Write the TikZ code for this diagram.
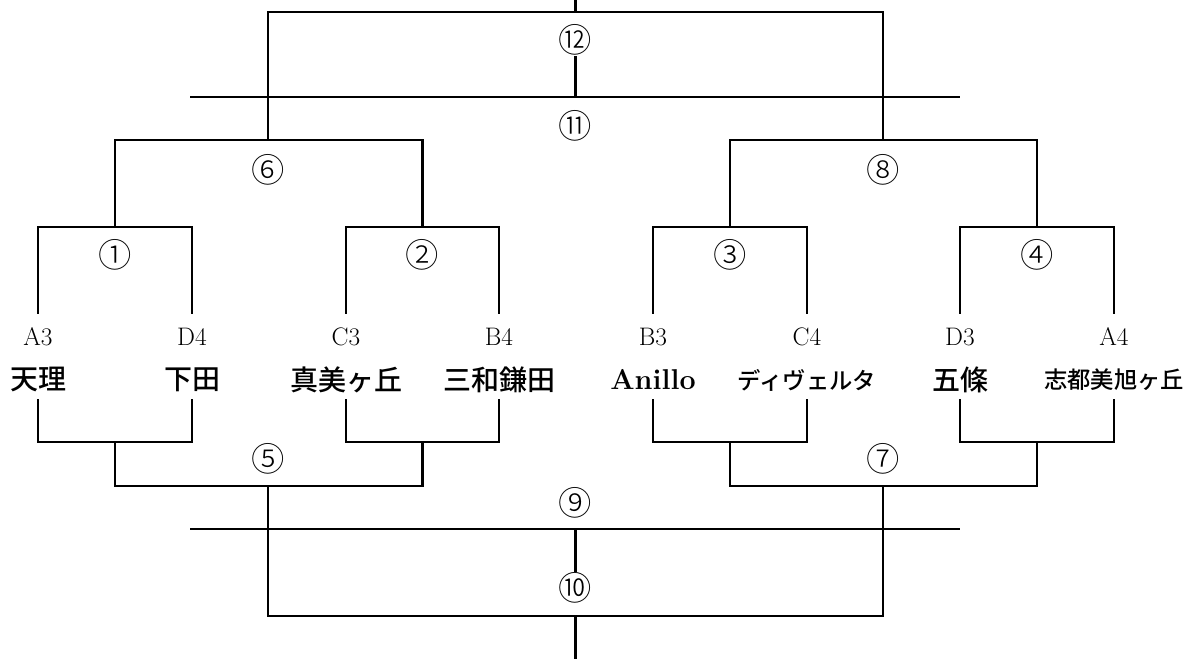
\documentclass[tikz,border=0pt]{standalone}
\usepackage{fontspec}
\newfontfamily\jpfont{Noto Sans CJK JP}[UprightFont={* Medium}]
\newfontfamily\numfont{Noto Sans CJK JP}[UprightFont={* Light}]
\usetikzlibrary{positioning}
\tikzset{%
	bracket/.style={
		line width=2.2pt,
		line cap=rect
	},
	seed/.style={
		font=\fontsize{19}{19}\selectfont,
		inner sep=0pt
	},
	team/.style={
		font=\jpfont\fontsize{21}{21}\selectfont,
		inner sep=0pt
	},
	small team/.style={
		font=\jpfont\fontsize{17.5}{17.5}\selectfont,
		inner sep=0pt
	},
	latin team/.style={
		font=\bfseries\fontsize{21.5}{21.5}\selectfont,
		inner sep=0pt
	},
	match/.style={
		font=\numfont\fontsize{25}{25}\selectfont,
		inner sep=1.5pt
	},
}

\begin{document}
\begin{tikzpicture}[x=0.75pt, y=-0.75pt]
	\useasboundingbox (0,0) rectangle (1195,659);
	
	% teams, seeds and bracket ends
	\foreach \i/\x/\s/\t/\st in {1/38/A3/天理/team, 2/192/D4/下田/team,
		3/346/C3/真美ヶ丘/team, 4/499/B4/三和鎌田/team,
		5/653/B3/Anillo/latin team, 6/807/C4/ディヴェルタ/small team,
		7/960/D3/五條/team, 8/1114/A4/志都美旭ヶ丘/small team} {
		\node[seed] (s\i) at (\x,337) {\s};
		\node[\st] (n\i) at (\x,380) {\t};
		\coordinate (u\i) at (\x,313);
		\coordinate (d\i) at (\x,400);
	}
	
	% joints
	\foreach \k/\x in {1/115, 2/422.5, 3/730, 4/1037} {
		\coordinate (a\k) at (\x,227);
		\coordinate (e\k) at (\x,442);
	}
	\coordinate (b6) at (268,140);
	\coordinate (b8) at (883,140);
	\coordinate (g5) at (268,486);
	\coordinate (g7) at (883,486);
	\coordinate (f) at (575.5,12);
	\coordinate (top) at (575.5,0);
	\coordinate (h) at (575.5,616);
	\coordinate (bot) at (575.5,659);
	\coordinate (l11a) at (191,97);
	\coordinate (l11b) at (959,97);
	\coordinate (l9a) at (191,529);
	\coordinate (l9b) at (959,529);
	
	% match numbers
	\node[match] (m1) at (115,255) {①};
	\node[match] (m2) at (422.5,255) {②};
	\node[match] (m3) at (730,255) {③};
	\node[match] (m4) at (1037,255) {④};
	\node[match] (m5) at (268,459) {⑤};
	\node[match] (m6) at (268,170) {⑥};
	\node[match] (m7) at (883,459) {⑦};
	\node[match] (m8) at (883,170) {⑧};
	\node[match] (m9) at (575.5,503) {⑨};
	\node[match] (m10) at (575.5,588) {⑩};
	\node[match] (m11) at (575.5,126) {⑪};
	\node[match] (m12) at (575.5,40) {⑫};
	
	% upper half
	\draw[bracket] (u1) |- (a1) -| (u2);
	\draw[bracket] (u3) |- (a2) -| (u4);
	\draw[bracket] (u5) |- (a3) -| (u6);
	\draw[bracket] (u7) |- (a4) -| (u8);
	\draw[bracket] (a1) |- (b6) -| (a2);
	\draw[bracket] (a3) |- (b8) -| (a4);
	\draw[bracket] (b6) |- (f) -| (b8);
	\draw[bracket] (f) -- (top);
	\draw[bracket] (l11a) -- (l11b);
	\draw[bracket] (m12.south) -- (m12.south |- l11a);
	
	% lower half
	\draw[bracket] (d1) |- (e1) -| (d2);
	\draw[bracket] (d3) |- (e2) -| (d4);
	\draw[bracket] (d5) |- (e3) -| (d6);
	\draw[bracket] (d7) |- (e4) -| (d8);
	\draw[bracket] (e1) |- (g5) -| (e2);
	\draw[bracket] (e3) |- (g7) -| (e4);
	\draw[bracket] (g5) |- (h) -| (g7);
	\draw[bracket] (h) -- (bot);
	\draw[bracket] (l9a) -- (l9b);
	\draw[bracket] (m10.north |- l9a) -- (m10.north);
\end{tikzpicture}
\end{document}
